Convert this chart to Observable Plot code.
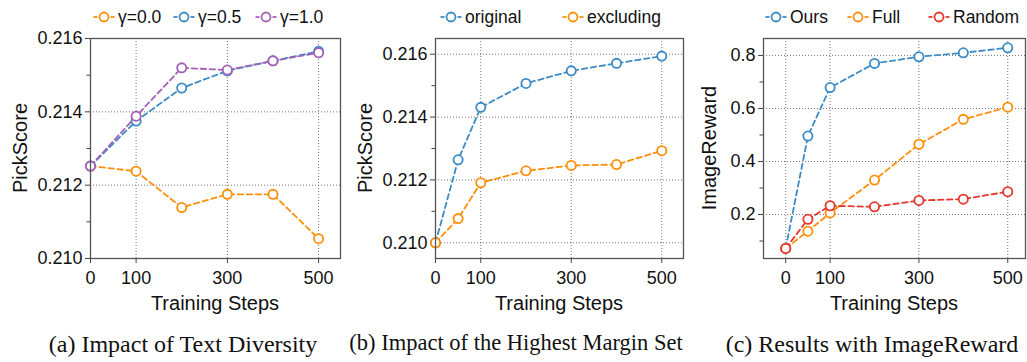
<!DOCTYPE html>
<html>
<head>
<meta charset="utf-8">
<script src="https://cdn.jsdelivr.net/npm/d3@7"></script>
<script src="https://cdn.jsdelivr.net/npm/@observablehq/plot@0.6"></script>
<style>
  html, body { margin: 0; padding: 0; background: #fff; }
  #root { position: relative; width: 1027px; height: 362px; overflow: hidden; background: #fff;
          font-family: "Liberation Sans", Arial, Helvetica, sans-serif; color: #111; }
  .panel { position: absolute; top: 0; }
  .legend { position: absolute; top: 7px; height: 20px; font-size: 17.5px; white-space: nowrap; }
  .legend .item { position: absolute; top: 0; display: flex; align-items: center; height: 20px; }
  .legend svg { margin-right: 3px; }
  .xlabel { position: absolute; font-size: 20px; transform: translate(-50%, 0); white-space: nowrap; line-height: 1; }
  .ylabel { position: absolute; font-size: 20px; transform: translate(-50%, -50%) rotate(-90deg); white-space: nowrap; line-height: 1; }
  .caption { position: absolute; font-family: "Liberation Serif", "Times New Roman", serif; font-size: 24px;
             transform: translate(-50%, 0); white-space: nowrap; line-height: 1; color: #111; }
</style>
</head>
<body>
<div id="root"></div>
<script>
// ---------- data ----------
const stepsA = [0, 100, 200, 300, 400, 500];
const gamma00 = [0.21252, 0.21238, 0.21139, 0.21175, 0.21175, 0.21054];
const gamma05 = [0.21252, 0.21375, 0.21465, 0.21512, 0.21539, 0.21565];
const gamma10 = [0.21252, 0.21388, 0.21520, 0.21514, 0.21539, 0.21561];

const stepsB = [0, 50, 100, 200, 300, 400, 500];
const original = [0.2100, 0.21264, 0.21431, 0.21507, 0.21547, 0.21571, 0.21594];
const excluding = [0.2100, 0.21077, 0.21191, 0.21229, 0.21246, 0.21249, 0.21293];

const stepsC = [0, 50, 100, 200, 300, 400, 500];
const ours = [0.072, 0.496, 0.679, 0.770, 0.795, 0.810, 0.829];
const full = [0.072, 0.137, 0.206, 0.330, 0.465, 0.559, 0.605];
const random = [0.072, 0.182, 0.233, 0.229, 0.253, 0.258, 0.286];

const xTicks = [0, 100, 300, 500];
const yTicksPick = [0.210, 0.212, 0.214, 0.216];
const yMinorPick = [0.211, 0.213, 0.215];
const yTicksIR = [0.2, 0.4, 0.6, 0.8];
const yMinorIR = [0.1, 0.3, 0.5, 0.7];

const ORANGE = "#ff8f0a", BLUE = "#3b8bc4", PURPLE = "#a561b8", RED = "#e6352d";

const root = document.getElementById("root");

function makePanel({left, width, marginLeft, marginRight, xDomain, yDomain, yTicks, yMinor, yFmt, series, xs}) {
  const marks = [
    Plot.gridY(yTicks, {stroke: "#555", strokeOpacity: 0.9, strokeDasharray: "1,2", strokeWidth: 0.9}),
    Plot.gridX(xTicks, {stroke: "#555", strokeOpacity: 0.9, strokeDasharray: "1,2", strokeWidth: 0.9}),
    Plot.axisY({ticks: yTicks, tickSize: 5, tickPadding: 3, tickFormat: yFmt, label: null, stroke: "#444", fill: "#111", fontSize: 18}),
    Plot.axisY({ticks: yMinor, tickSize: 3.5, tickFormat: () => "", label: null, stroke: "#444"}),
    Plot.axisX({ticks: xTicks, tickSize: 5, tickPadding: 8, tickFormat: d => String(d), label: null, stroke: "#444", fill: "#111", fontSize: 18}),
  ];
  for (const s of series) {
    const data = xs.map((x, i) => ({x, y: s.values[i]}));
    marks.push(Plot.line(data, {x: "x", y: "y", stroke: s.color, strokeWidth: 1.8, strokeDasharray: "5.5,3.5"}));
    marks.push(Plot.dot(data, {x: "x", y: "y", r: 4.6, fill: "white", stroke: s.color, strokeWidth: 1.8}));
  }
  marks.push(Plot.frame({stroke: "#555", strokeWidth: 1.3}));
  const chart = Plot.plot({
    width, height: 320,
    marginLeft, marginRight, marginTop: 38, marginBottom: 62,
    x: {domain: xDomain},
    y: {domain: yDomain},
    style: {background: "transparent", fontSize: "18px", fontFamily: "'Liberation Sans', Arial, sans-serif", color: "#111", overflow: "visible"},
    marks
  });
  const wrap = document.createElement("div");
  wrap.className = "panel";
  wrap.style.left = left + "px";
  wrap.appendChild(chart);
  root.appendChild(wrap);
}

function addLegend(items) {
  const lg = document.createElement("div");
  lg.className = "legend";
  lg.style.left = "0px";
  for (const it of items) {
    const d = document.createElement("div");
    d.className = "item";
    d.style.left = it.x + "px";
    d.innerHTML = `<svg width="22" height="14" viewBox="0 0 22 14">
      <line x1="0.5" y1="7" x2="4.5" y2="7" stroke="${it.color}" stroke-width="1.8"/>
      <line x1="17.5" y1="7" x2="21.5" y2="7" stroke="${it.color}" stroke-width="1.8"/>
      <circle cx="11" cy="7" r="4.5" fill="white" stroke="${it.color}" stroke-width="1.8"/></svg><span>${it.label}</span>`;
    lg.appendChild(d);
  }
  root.appendChild(lg);
}

function addText(cls, text, x, y, size) {
  const d = document.createElement("div");
  d.className = cls;
  d.textContent = text;
  d.style.left = x + "px";
  d.style.top = y + "px";
  if (size) d.style.fontSize = size + "px";
  root.appendChild(d);
}

const fmt3 = d3.format(".3f");
const fmt1 = d3.format(".1f");

// (a)
makePanel({left: 0, width: 345, marginLeft: 90, marginRight: 5, xDomain: [0, 548], yDomain: [0.210, 0.216],
  yTicks: yTicksPick, yMinor: yMinorPick, yFmt: fmt3, xs: stepsA,
  series: [{values: gamma00, color: ORANGE}, {values: gamma05, color: BLUE}, {values: gamma10, color: PURPLE}]});
// (b)
makePanel({left: 345, width: 340, marginLeft: 90, marginRight: 2, xDomain: [0, 548], yDomain: [0.2095, 0.2165],
  yTicks: yTicksPick, yMinor: yMinorPick, yFmt: fmt3, xs: stepsB,
  series: [{values: original, color: BLUE}, {values: excluding, color: ORANGE}]});
// (c)
makePanel({left: 685, width: 342, marginLeft: 78, marginRight: 2, xDomain: [-50, 540], yDomain: [0.034, 0.864],
  yTicks: yTicksIR, yMinor: yMinorIR, yFmt: fmt1, xs: stepsC,
  series: [{values: ours, color: BLUE}, {values: full, color: ORANGE}, {values: random, color: RED}]});

addLegend([
  {x: 93, label: "γ=0.0", color: ORANGE},
  {x: 173, label: "γ=0.5", color: BLUE},
  {x: 255, label: "γ=1.0", color: PURPLE},
  {x: 440, label: "original", color: BLUE},
  {x: 562, label: "excluding", color: ORANGE},
  {x: 765, label: "Ours", color: BLUE},
  {x: 847, label: "Full", color: ORANGE},
  {x: 928, label: "Random", color: RED},
]);

addText("xlabel", "Training Steps", 215, 293);
addText("xlabel", "Training Steps", 559, 293);
addText("xlabel", "Training Steps", 894, 293);
addText("ylabel", "PickScore", 20, 148);
addText("ylabel", "PickScore", 365, 148);
addText("ylabel", "ImageReward", 709, 148);

addText("caption", "(a) Impact of Text Diversity", 183, 332);
addText("caption", "(b) Impact of the Highest Margin Set", 516, 332, 22.5);
addText("caption", "(c) Results with ImageReward", 872, 332);
</script>
</body>
</html>
